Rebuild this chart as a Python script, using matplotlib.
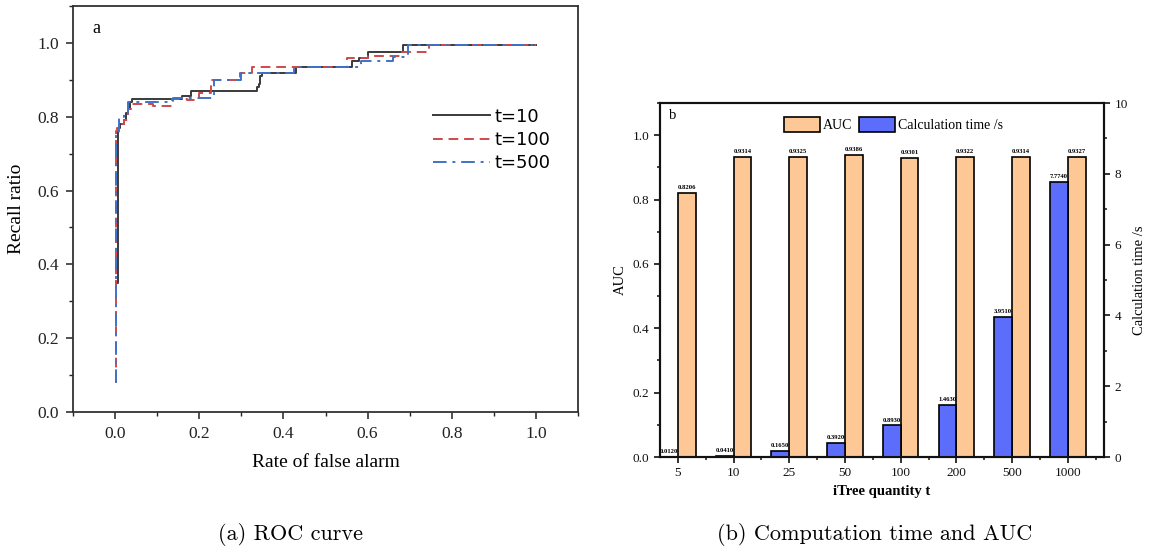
import matplotlib
matplotlib.use("Agg")
import matplotlib.pyplot as plt
import numpy as np
from matplotlib.ticker import MultipleLocator, FixedLocator

plt.rcParams["font.family"] = ["Liberation Serif", "DejaVu Serif"]

# ROC curves (step points)
fpr_t10 = [0.003, 0.007, 0.012, 0.02, 0.025, 0.03, 0.035, 0.04, 0.16, 0.18,
           0.337, 0.342, 0.345, 0.35, 0.43, 0.564, 0.58, 0.60, 0.685, 1.0]
tpr_t10 = [0.35, 0.77, 0.78, 0.79, 0.81, 0.82, 0.84, 0.848, 0.855, 0.871,
           0.88, 0.89, 0.91, 0.919, 0.935, 0.95, 0.96, 0.975, 0.995, 0.995]
fpr_t100 = [0.0, 0.002, 0.005, 0.012, 0.02, 0.03, 0.04, 0.09, 0.135, 0.17,
            0.2, 0.228, 0.298, 0.326, 0.551, 0.60, 0.68, 0.745, 1.0]
tpr_t100 = [0.08, 0.76, 0.77, 0.78, 0.79, 0.82, 0.835, 0.83, 0.848, 0.845,
            0.865, 0.899, 0.919, 0.935, 0.96, 0.965, 0.975, 0.995, 0.995]
fpr_t500 = [0.0, 0.003, 0.01, 0.02, 0.03, 0.138, 0.235, 0.30, 0.424, 0.585,
            0.661, 0.695, 1.0]
tpr_t500 = [0.08, 0.75, 0.80, 0.81, 0.84, 0.852, 0.899, 0.919, 0.935, 0.95,
            0.962, 0.995, 0.995]

# bar chart
tree_counts = ["5", "10", "25", "50", "100", "200", "500", "1000"]
auc = [0.8206, 0.9314, 0.9325, 0.9386, 0.9301, 0.9322, 0.9314, 0.9327]
calc_time = [0.012, 0.041, 0.165, 0.392, 0.893, 1.463, 3.951, 7.774]

fig = plt.figure(figsize=(11.52, 5.56), dpi=100)

# ---- (a) ROC curve
ax = fig.add_axes([73 / 1152, 1 - 412 / 556, 505 / 1152, 406 / 556])
ax.plot(fpr_t10, tpr_t10, drawstyle="steps-post", color="#3a3a3a", lw=1.4, label="t=10")
ax.plot(fpr_t100, tpr_t100, drawstyle="steps-post", color="#d04848", lw=1.4,
        ls=(0, (5, 3)), label="t=100")
ax.plot(fpr_t500, tpr_t500, drawstyle="steps-post", color="#3f72c8", lw=1.4,
        ls=(0, (7, 3, 1.5, 3)), label="t=500")
ax.set_xlim(-0.1, 1.1)
ax.set_ylim(0, 1.1)
ax.xaxis.set_major_locator(FixedLocator([0, 0.2, 0.4, 0.6, 0.8, 1.0]))
ax.xaxis.set_minor_locator(MultipleLocator(0.1))
ax.yaxis.set_major_locator(FixedLocator([0, 0.2, 0.4, 0.6, 0.8, 1.0]))
ax.yaxis.set_minor_locator(MultipleLocator(0.1))
ax.xaxis.set_major_formatter(lambda v, p: f"{v:.1f}")
ax.yaxis.set_major_formatter(lambda v, p: f"{v:.1f}")
ax.tick_params(which="both", direction="out", labelsize=12.5, colors="#222222")
ax.tick_params(which="major", length=5, width=1.1, pad=5)
ax.tick_params(which="minor", length=3, width=1.0)
for s in ax.spines.values():
    s.set_linewidth(1.3)
    s.set_color("#333333")
ax.set_xlabel("Rate of false alarm", fontsize=14, labelpad=9)
ax.set_ylabel("Recall ratio", fontsize=14, labelpad=9)
ax.text(0.038, 0.945, "a", transform=ax.transAxes, fontsize=13, va="center")
leg = ax.legend(loc="upper left", bbox_to_anchor=(0.68, 0.79), frameon=False,
                handlelength=3.2, handletextpad=0.2, labelspacing=0.3,
                prop={"family": "DejaVu Sans", "size": 13})

# ---- (b) computation time and AUC
bx = fig.add_axes([660 / 1152, 1 - 457 / 556, 444 / 1152, 354 / 556])
bx2 = bx.twinx()
x = np.arange(len(tree_counts))
w = 0.32
ob = bx.bar(x + w / 2, auc, width=w, color="#fdc896", edgecolor="black", lw=1.2,
            label="AUC")
bb = bx2.bar(x - w / 2, calc_time, width=w, color="#5d6dfb", edgecolor="black", lw=1.2,
             label="Calculation time /s")
for xi, v in zip(x, auc):
    bx.annotate(f"{v:.4f}", (xi + w / 2, v), xytext=(0, 2), textcoords="offset points",
                ha="center", va="bottom", fontsize=4.8, fontweight="bold")
for xi, v in zip(x, calc_time):
    bx2.annotate(f"{v:.4f}", (xi - w / 2, v), xytext=(0, 2), textcoords="offset points",
                 ha="center", va="bottom", fontsize=4.8, fontweight="bold")
bx.set_xlim(-0.32, 7.65)
bx.set_ylim(0, 1.1)
bx2.set_ylim(0, 10)
bx.set_xticks(x)
bx.set_xticklabels(tree_counts)
bx.xaxis.set_minor_locator(FixedLocator(np.arange(0.5, 8, 1.0)))
bx.yaxis.set_major_locator(FixedLocator([0, 0.2, 0.4, 0.6, 0.8, 1.0]))
bx.yaxis.set_minor_locator(MultipleLocator(0.1))
bx.yaxis.set_major_formatter(lambda v, p: f"{v:.1f}")
bx2.yaxis.set_major_locator(MultipleLocator(2))
bx2.yaxis.set_minor_locator(MultipleLocator(1))
for a in (bx, bx2):
    a.tick_params(which="both", direction="out", labelsize=9.5, colors="#111111")
    a.tick_params(which="major", length=4, width=1.2)
    a.tick_params(which="minor", length=2.5, width=1.1)
    for s in a.spines.values():
        s.set_linewidth(1.5)
        s.set_color("#111111")
bx.set_xlabel("iTree quantity t", fontsize=10.5, fontweight="bold", labelpad=4)
bx.set_ylabel("AUC", fontsize=10.5)
bx2.set_ylabel("Calculation time /s", fontsize=10.5)
bx.text(0.02, 0.965, "b", transform=bx.transAxes, fontsize=10.5, va="center")
bx.legend(handles=[ob, bb], loc="center", bbox_to_anchor=(0.525, 0.94), ncol=2,
          frameon=False, handlelength=2.6, handleheight=1.3, handletextpad=0.2,
          columnspacing=0.5, fontsize=10)

# ---- captions
fig.text(290 / 1152, 1 - 535 / 556, "(a) ROC curve", ha="center", va="center",
         fontsize=16, family="cmr10")
fig.text(875 / 1152, 1 - 535 / 556, "(b) Computation time and AUC", ha="center",
         va="center", fontsize=16, family="cmr10")

fig.savefig("out.png", dpi=100)
